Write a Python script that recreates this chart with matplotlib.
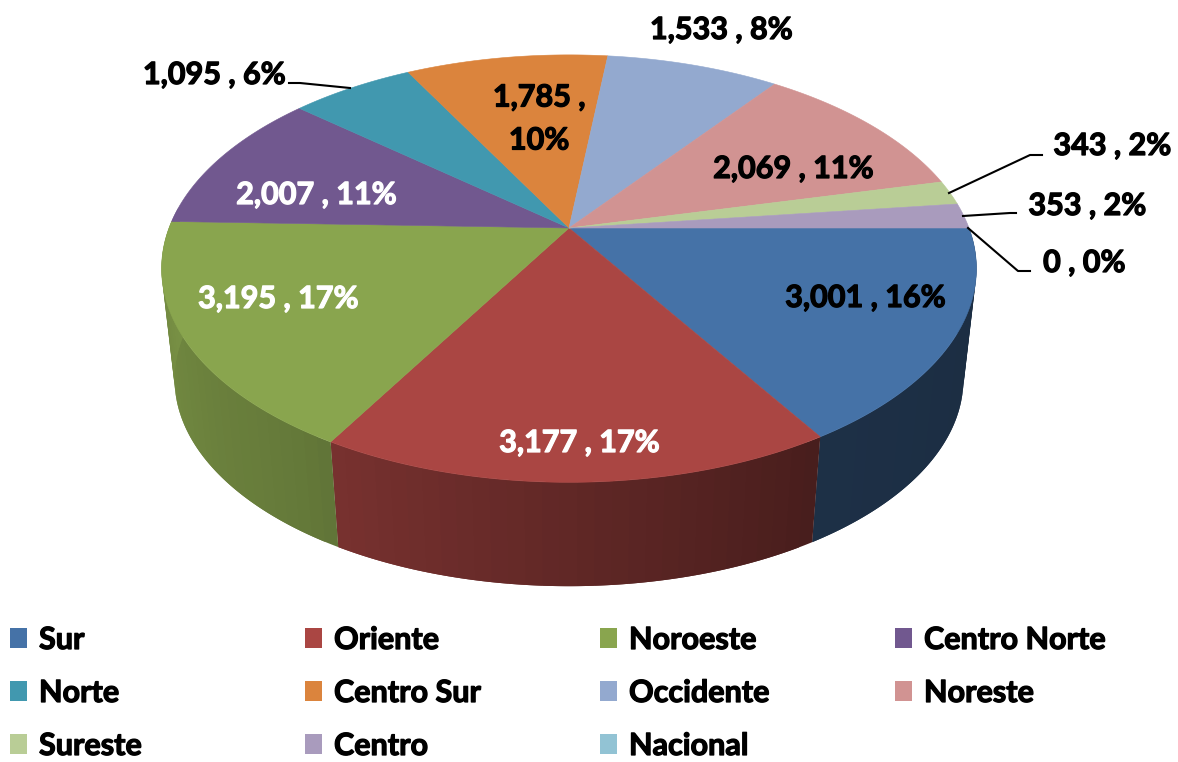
import numpy as np
import matplotlib
matplotlib.use("Agg")
import matplotlib.pyplot as plt
import matplotlib.patheffects as pe
from matplotlib.patches import Rectangle

regiones = ["Sur", "Oriente", "Noroeste", "Centro Norte", "Norte", "Centro Sur",
            "Occidente", "Noreste", "Sureste", "Centro", "Nacional"]
valores = [3001, 3177, 3195, 2007, 1095, 1785, 1533, 2069, 343, 353, 0]
colores = ["#4572A7", "#AA4643", "#89A54E", "#71588F", "#4198AF", "#DB843D",
           "#93A9CF", "#D19392", "#B9CD96", "#A99BBD", "#92C3D4"]
color_texto = ["black", "white", "white", "white", "black", "black",
               "black", "black", "black", "black", "black"]
pos_texto = [(865, 298), (579, 443), (278, 299), (316, 195), (214, 75), (539, 119),
             (721, 30), (793, 169), (1112, 146), (1087, 206), (1084, 263)]
guias = {4: [(350, 88), (300, 83), (289, 83)],
         8: [(949, 193), (1030, 155), (1042, 155)],
         9: [(963, 216), (1010, 213), (1016, 213)],
         10: [(968, 228), (1018, 271), (1030, 271)]}
pos_leyenda = [(12, 640), (307, 640), (602, 640), (897, 640),
               (12, 693), (307, 693), (602, 693), (897, 693),
               (12, 746), (307, 746), (602, 746)]

plt.rcParams["font.family"] = ["Lato", "DejaVu Sans"]
plt.rcParams["font.weight"] = "bold"

CX, CY = 569, 228
A, K, P = 400, 206, 0.19


def tapa(t):
    # perspective of the top ellipse
    d = 1 + P * np.sin(t)
    return CX + A * np.cos(t) / d, CY - K * np.sin(t) / d


def base(t):
    x, y = tapa(t)
    return CX + (x - CX) * 0.968, 340 + (y - CY) * 0.968


def sombra(grados):
    return np.interp(grados, [-182, -127, -58, 0], [0.88, 0.74, 0.42, 0.39])


fig = plt.figure(figsize=(11.78, 7.62), dpi=100)
ax = fig.add_axes([0, 0, 1, 1])
ax.set_xlim(0, 1178)
ax.set_ylim(762, 0)
ax.axis("off")

total = sum(valores)
bordes = -2 * np.pi * np.cumsum([0] + valores) / total

# sides first, only the front half shows. bands overlap so no seams appear
for i in range(len(valores)):
    ini, fin = bordes[i], bordes[i + 1]
    if fin >= ini or ini <= -np.pi - 0.1:
        continue
    fin = max(fin, -np.pi - 0.1)
    pasos = max(int((ini - fin) * 28), 1)
    ts = np.linspace(ini, fin, pasos + 1)
    rgb = np.array(matplotlib.colors.to_rgb(colores[i]))
    for j, (a, b) in enumerate(zip(ts[:-1], ts[1:])):
        fin_seg = fin if j == pasos - 1 else ts[min(j + 2, pasos)]
        seg = np.linspace(a, fin_seg, 8)
        x1, y1 = tapa(seg)
        x2, y2 = base(seg)
        c = rgb * sombra(np.degrees((a + b) / 2))
        ax.fill(np.r_[x1, x2[::-1]], np.r_[y1, y2[::-1]], color=c, lw=0, zorder=2 + i * 0.01)

# top face
for i in range(len(valores)):
    ini, fin = bordes[i], bordes[i + 1]
    if fin == ini:
        continue
    ts = np.linspace(ini, fin, 120)
    x, y = tapa(ts)
    ax.fill(np.r_[CX, x], np.r_[CY, y], color=colores[i], lw=0.4, zorder=3)

for i, v in enumerate(valores):
    pct = round(100 * v / total)
    txt = f"{v:,} , {pct}%"
    if regiones[i] == "Centro Sur":
        txt = f"{v:,} ,\n{pct}%"
    t = ax.text(*pos_texto[i], txt, color=color_texto[i], fontsize=22, ha="center",
                va="center", linespacing=1.65, zorder=5)
    t.set_path_effects([pe.withStroke(linewidth=0.9, foreground=color_texto[i])])

for puntos in guias.values():
    xs, ys = zip(*puntos)
    ax.plot(xs, ys, color="black", lw=1.5, zorder=4)

for nombre, col, (x, y) in zip(regiones, colores, pos_leyenda):
    ax.add_patch(Rectangle((x - 2, y - 12), 17, 20, facecolor=col, edgecolor="none"))
    t = ax.text(x + 27, y, nombre, fontsize=22, ha="left", va="center", color="black")
    t.set_path_effects([pe.withStroke(linewidth=0.9, foreground="black")])

fig.savefig("out.png", dpi=100)
